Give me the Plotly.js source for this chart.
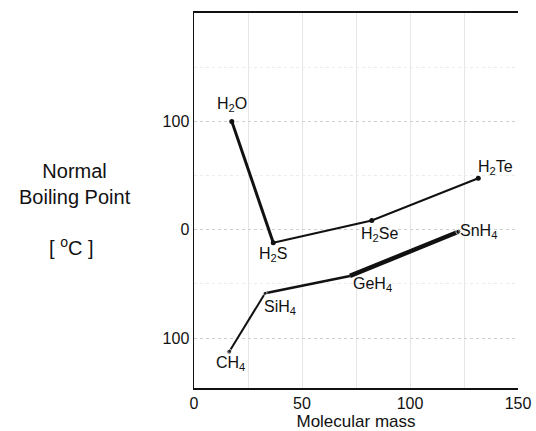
<!DOCTYPE html>
<html>
<head>
<meta charset="utf-8">
<script src="https://cdn.plot.ly/plotly-3.0.1.min.js"></script>
<style>
html,body{margin:0;padding:0;background:#fff;}
#chart{width:536px;height:431px;}
</style>
</head>
<body>
<div id="chart"></div>
<script>
// Group 16 hydrides
const namesVI = ['H<sub>2</sub>O', 'H<sub>2</sub>S', 'H<sub>2</sub>Se', 'H<sub>2</sub>Te'];
const massVI = [17.5, 36.7, 82.3, 131.6];
const bpVI = [100, -12, 8.5, 47.5];
// Group 14 hydrides
const namesIV = ['CH<sub>4</sub>', 'SiH<sub>4</sub>', 'GeH<sub>4</sub>', 'SnH<sub>4</sub>'];
const massIV = [16.3, 32.9, 72.2, 122.4];
const bpIV = [-112.5, -58.6, -42.6, -1.8];
// axis ticks
const xTickVals = [0, 50, 100, 150];
const xTickText = ['0', '50', '100', '150'];
const yTickVals = [-100, 0, 100];
const yTickText = ['100', '0', '100'];

const font = 'Liberation Sans, Arial, Helvetica, sans-serif';

function seg(xs, ys, i, j, w) {
  return {x: xs.slice(i, j + 1), y: ys.slice(i, j + 1), mode: 'lines', type: 'scatter',
    line: {color: '#111', width: w}, hoverinfo: 'skip', showlegend: false};
}

const traces = [
  seg(massVI, bpVI, 0, 1, 3),
  seg(massVI, bpVI, 1, 3, 2),
  seg(massIV, bpIV, 0, 1, 2),
  seg(massIV, bpIV, 1, 2, 2.5),
  seg(massIV, bpIV, 2, 3, 4.5),
  {x: massVI, y: bpVI, mode: 'markers', type: 'scatter', marker: {color: '#111', size: 5}, showlegend: false},
  {x: massIV, y: bpIV, mode: 'markers', type: 'scatter', marker: {color: '#111', size: [5, 4, 0, 5]}, showlegend: false}
];

// label offsets in pixels (dx, dy)
const offVI = [[0, 17], [0, -12], [8, -14], [17, 11]];
const offIV = [[1, -12], [15, -14], [23, -9], [20, 0]];

const annotations = [];
namesVI.forEach((t, i) => annotations.push({x: massVI[i], y: bpVI[i], xref: 'x', yref: 'y', text: t,
  showarrow: false, xshift: offVI[i][0], yshift: offVI[i][1], font: {family: font, size: 16, color: '#111'}}));
namesIV.forEach((t, i) => annotations.push({x: massIV[i], y: bpIV[i], xref: 'x', yref: 'y', text: t,
  showarrow: false, xshift: offIV[i][0], yshift: offIV[i][1], font: {family: font, size: 16, color: '#111'}}));
annotations.push({xref: 'paper', yref: 'paper', x: -0.367, y: 0.543, text: 'Normal<br>Boiling Point',
  showarrow: false, xanchor: 'center', yanchor: 'middle', font: {family: font, size: 20, color: '#111'}});
annotations.push({xref: 'paper', yref: 'paper', x: -0.38, y: 0.378, text: '[ <sup>o</sup>C ]',
  showarrow: false, xanchor: 'center', yanchor: 'middle', font: {family: font, size: 20, color: '#111'}});

const layout = {
  width: 536, height: 431,
  margin: {l: 194, r: 18, t: 13, b: 43},
  paper_bgcolor: '#fff', plot_bgcolor: '#fff',
  font: {family: font, size: 16, color: '#111'},
  xaxis: {
    range: [0, 150], tickvals: xTickVals, ticktext: xTickText,
    showline: true, linecolor: '#111', linewidth: 2, mirror: true,
    showgrid: false, zeroline: false, ticks: '', ticklen: 0,
    minor: {dtick: 25, showgrid: true, gridcolor: '#e6e6e6', gridwidth: 1},
    title: {text: 'Molecular mass', font: {family: font, size: 17, color: '#111'}, standoff: 2},
    tickfont: {family: font, size: 16, color: '#111'}
  },
  yaxis: {
    range: [-146, 200], tickvals: yTickVals, ticktext: yTickText,
    showline: true, linecolor: '#111', linewidth: 1.5,
    showgrid: true, gridcolor: '#cfcfcf', griddash: 'dot', gridwidth: 1,
    zeroline: false, ticks: '', ticklen: 0,
    minor: {dtick: 50, showgrid: true, gridcolor: '#ececec', gridwidth: 1},
    tickfont: {family: font, size: 16, color: '#111'}
  },
  annotations: annotations
};

Plotly.newPlot('chart', traces, layout, {displayModeBar: false, staticPlot: true});
</script>
</body>
</html>
